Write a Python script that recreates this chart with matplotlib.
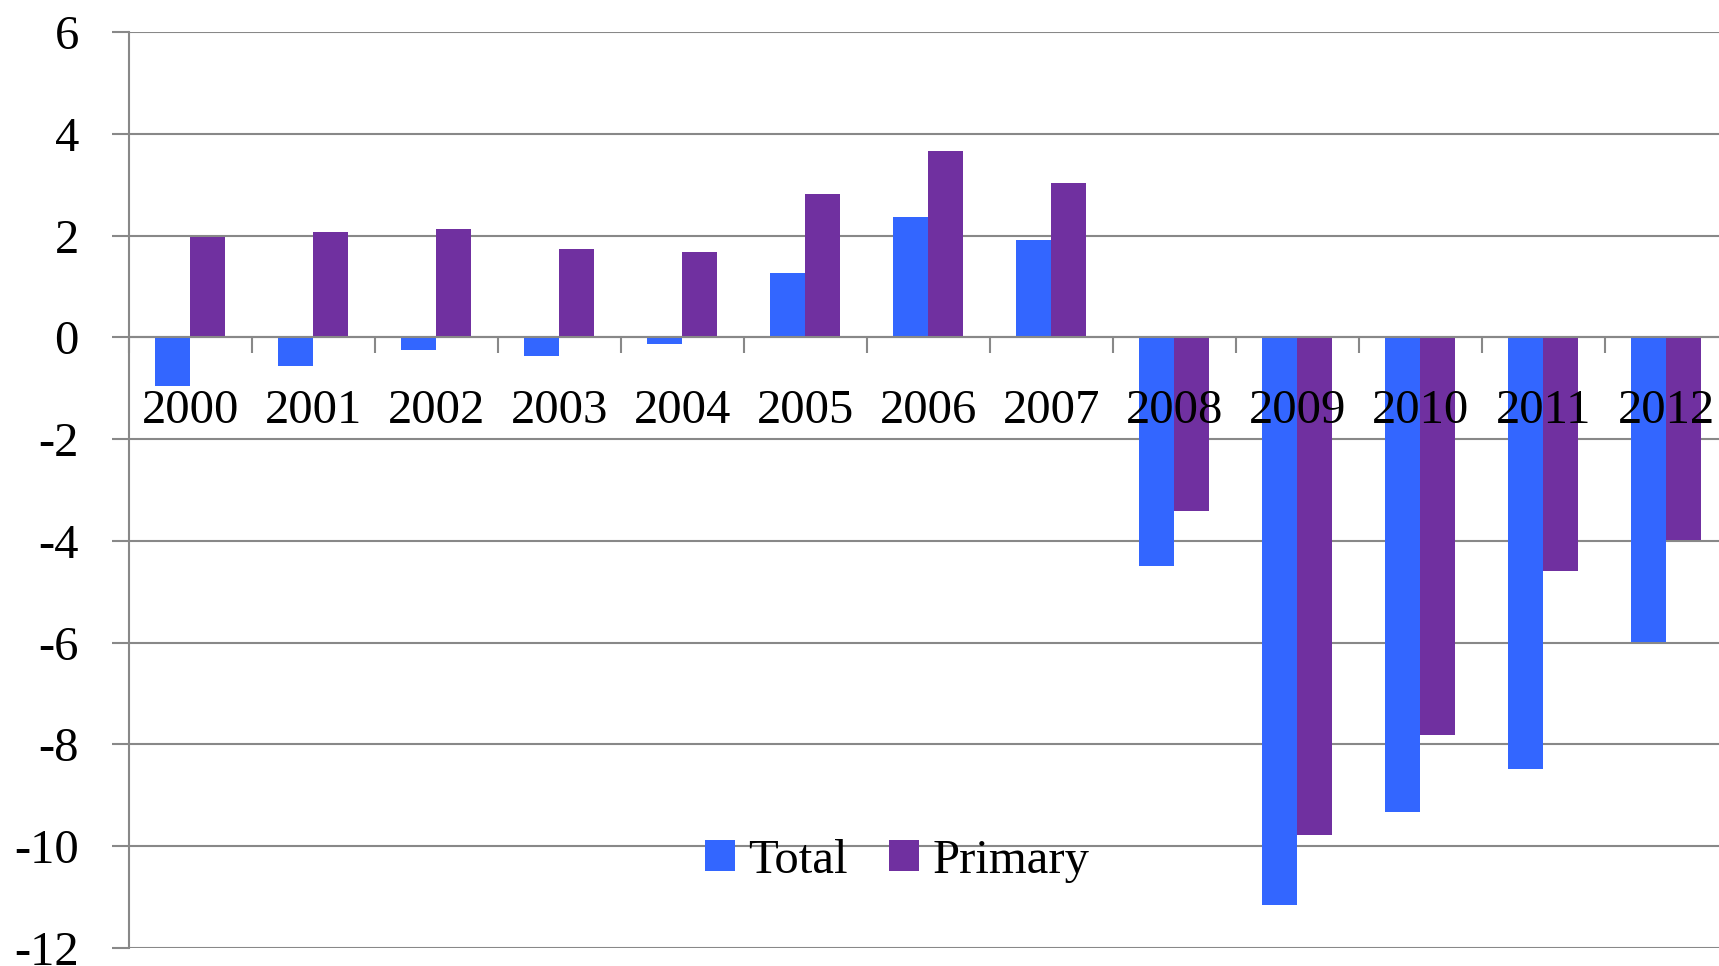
import matplotlib
matplotlib.use("Agg")
import matplotlib.pyplot as plt
import numpy as np

# Budget balance by year, % of GDP
years = ['2000', '2001', '2002', '2003', '2004', '2005', '2006',
         '2007', '2008', '2009', '2010', '2011', '2012']
total = [-0.95, -0.56, -0.24, -0.37, -0.13, 1.26, 2.37,
         1.92, -4.50, -11.16, -9.33, -8.49, -5.98]
primary = [1.97, 2.07, 2.12, 1.73, 1.68, 2.81, 3.67,
           3.04, -3.42, -9.78, -7.82, -4.60, -3.99]
yticks = [6, 4, 2, 0, -2, -4, -6, -8, -10, -12]

BLUE = '#3366FF'
PURPLE = '#7030A0'
GREY = '#888888'

plt.rcParams['font.family'] = ['Liberation Serif', 'DejaVu Serif']
FS = 35

fig = plt.figure(figsize=(17.19, 9.66), dpi=100)
ax = fig.add_axes([0.075, 0.0186, 1.0052 - 0.075, 0.9669 - 0.0186])

x = np.arange(len(years))
w = 0.285
ax.bar(x - w / 2, total, w, color=BLUE, label='Total', zorder=3)
ax.bar(x + w / 2, primary, w, color=PURPLE, label='Primary', zorder=3)

ax.set_xlim(-0.5, len(years) - 0.5)
ax.set_ylim(-12, 6)

# horizontal gridlines
ax.set_yticks(yticks)
ax.set_yticklabels([str(v) for v in yticks], fontsize=FS)
ax.yaxis.grid(True, color=GREY, lw=1.5, zorder=0)
ax.tick_params(axis='y', length=12, width=1.5, color=GREY, pad=24)

# category axis sits on zero, ticks at the category boundaries
for s in ['top', 'right']:
    ax.spines[s].set_visible(False)
ax.spines['bottom'].set_position(('data', 0))
ax.spines['bottom'].set_color(GREY)
ax.spines['bottom'].set_linewidth(1.5)
ax.spines['bottom'].set_zorder(4)
ax.spines['left'].set_color(GREY)
ax.spines['left'].set_linewidth(1.5)

ax.set_xticks(np.arange(-0.5, len(years), 1.0))
ax.set_xticklabels([])
ax.set_xticks(x, minor=True)
ax.set_xticklabels(years, minor=True, fontsize=FS)
ax.tick_params(axis='x', which='major', length=11.5, width=1.5, color=GREY)
ax.tick_params(axis='x', which='minor', length=0, pad=37)
# year labels are drawn over the bars
ax.xaxis.set_zorder(5)

fig.legend(loc='center', bbox_to_anchor=(0.522, 0.109), ncol=2, frameon=False,
           fontsize=FS, handlelength=0.62, handleheight=0.62,
           handletextpad=0.27, columnspacing=0.85, borderaxespad=0)

fig.savefig('out.png', dpi=100)
